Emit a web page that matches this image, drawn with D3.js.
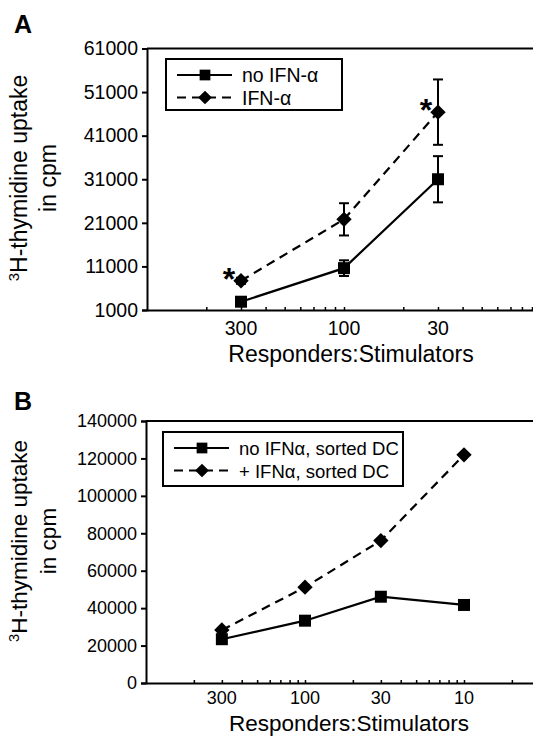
<!DOCTYPE html>
<html>
<head>
<meta charset="utf-8">
<script src="https://cdn.jsdelivr.net/npm/d3@7"></script>
<style>
  body { margin: 0; background: #fff; }
  svg { font-family: "Liberation Sans", Arial, sans-serif; }
</style>
</head>
<body>
<div id="chart"></div>
<script>
// ---- data, panel A ----
var ratiosA = [0.003, 0.01, 0.03];           // stimulator/responder fraction
var ratioLabelsA = ["300", "100", "30"];
var noIfnA = [2900, 10600, 31000];
var noIfnErrA = [600, 1800, 5300];
var ifnA = [7700, 21800, 46400];
var ifnErrA = [700, 3700, 7500];
var yTicksA = [1000, 11000, 21000, 31000, 41000, 51000, 61000];
var starsA = [0, 2];                          // indices with significance

// ---- data, panel B ----
var ratiosB = [0.003, 0.01, 0.03, 0.1];
var ratioLabelsB = ["300", "100", "30", "10"];
var noIfnB = [23400, 33300, 46100, 41700];
var ifnB = [28300, 51200, 76100, 121900];
var yTicksB = [0, 20000, 40000, 60000, 80000, 100000, 120000, 140000];

var W = 533, H = 738;

// square diamond (rotated square), size = area
var diamond = {
    draw: function(context, size) {
        var r = Math.sqrt(size / 2);
        context.moveTo(0, -r);
        context.lineTo(r, 0);
        context.lineTo(0, r);
        context.lineTo(-r, 0);
        context.closePath();
    }
};

var svg = d3.select("#chart").append("svg")
    .attr("width", W)
    .attr("height", H);

function drawPanel(cfg) {
    var g = svg.append("g");

    var x = d3.scaleLog().domain(cfg.xDomain).range(cfg.xRange);
    var y = d3.scaleLinear().domain(cfg.yDomain).range(cfg.yRange);

    // frame (top + right edge, right side runs off the page)
    g.append("path")
        .attr("d", "M" + cfg.xRange[0] + "," + cfg.yRange[1] + "H" + cfg.xRange[1] + "V" + cfg.yRange[0])
        .attr("fill", "none")
        .attr("stroke", "#000")
        .attr("stroke-width", 2);

    // y axis
    var yAxis = d3.axisLeft(y)
        .tickValues(cfg.yTicks)
        .tickSize(5)
        .tickPadding(4)
        .tickFormat(d3.format("d"));
    var ya = g.append("g")
        .attr("transform", "translate(" + cfg.xRange[0] + ",0)")
        .call(yAxis);
    ya.select(".domain").attr("stroke-width", 2);
    ya.selectAll(".tick line").attr("stroke-width", 2);
    ya.selectAll(".tick text")
        .attr("font-size", cfg.tickFont)
        .attr("font-family", "Liberation Sans, Arial, sans-serif")
        .attr("fill", "#000");

    // x axis: inward minor log ticks, labels at the data ratios
    var minor = x.ticks().filter(function(d) { return d > cfg.xDomain[0] * 1.01; });
    var xAxis = d3.axisBottom(x)
        .tickValues(minor)
        .tickSizeInner(-3)
        .tickSizeOuter(0)
        .tickFormat("");
    var xa = g.append("g")
        .attr("transform", "translate(0," + cfg.yRange[0] + ")")
        .call(xAxis);
    xa.select(".domain").attr("stroke-width", 2.2);
    xa.selectAll(".tick line").attr("stroke-width", 1.5);

    g.selectAll(".xlab")
        .data(cfg.ratios)
        .enter().append("text")
        .attr("class", "xlab")
        .attr("x", function(d) { return x(d); })
        .attr("y", cfg.xLabelY)
        .attr("text-anchor", "middle")
        .attr("font-size", cfg.tickFont)
        .text(function(d, i) { return cfg.ratioLabels[i]; });

    // axis titles
    g.append("text")
        .attr("x", cfg.xTitleX)
        .attr("y", cfg.xTitleY)
        .attr("text-anchor", "middle")
        .attr("font-size", cfg.titleFont)
        .text("Responders:Stimulators");

    var yt = g.append("text")
        .attr("transform", "translate(" + cfg.yTitleX + "," + cfg.yTitleY + ") rotate(-90)")
        .attr("text-anchor", "middle")
        .attr("font-size", cfg.titleFont);
    var l1 = yt.append("tspan").attr("x", 0).attr("y", 0);
    l1.append("tspan").attr("font-size", cfg.titleFont * 0.65).attr("dy", -8).text("3");
    l1.append("tspan").attr("dy", 8).text("H-thymidine uptake");
    yt.append("tspan").attr("x", 0).attr("y", 29).text("in cpm");

    // panel letter
    g.append("text")
        .attr("x", 14)
        .attr("y", cfg.letterY)
        .attr("font-size", 25)
        .attr("font-weight", "bold")
        .text(cfg.letter);

    var series = cfg.series;

    var line = d3.line()
        .x(function(d) { return x(d.r); })
        .y(function(d) { return y(d.v); });

    series.forEach(function(s) {
        var pts = cfg.ratios.map(function(r, i) { return { r: r, v: s.values[i], e: s.err ? s.err[i] : 0 }; });

        g.append("path")
            .datum(pts)
            .attr("d", line)
            .attr("fill", "none")
            .attr("stroke", "#000")
            .attr("stroke-width", 2.2)
            .attr("stroke-dasharray", s.dash);

        if (s.err) {
            var eb = g.selectAll(null)
                .data(pts)
                .enter().append("g");
            eb.append("line")
                .attr("x1", function(d) { return x(d.r); })
                .attr("x2", function(d) { return x(d.r); })
                .attr("y1", function(d) { return y(d.v - d.e); })
                .attr("y2", function(d) { return y(d.v + d.e); })
                .attr("stroke", "#000").attr("stroke-width", 2);
            [-1, 1].forEach(function(sign) {
                eb.append("line")
                    .attr("x1", function(d) { return x(d.r) - 5; })
                    .attr("x2", function(d) { return x(d.r) + 5; })
                    .attr("y1", function(d) { return y(d.v + sign * d.e); })
                    .attr("y2", function(d) { return y(d.v + sign * d.e); })
                    .attr("stroke", "#000").attr("stroke-width", 2);
            });
        }

        g.selectAll(null)
            .data(pts)
            .enter().append("path")
            .attr("transform", function(d) { return "translate(" + x(d.r) + "," + y(d.v) + ")"; })
            .attr("d", d3.symbol().type(s.symbol).size(s.size))
            .attr("fill", "#000");
    });

    // significance stars
    if (cfg.stars) {
        g.selectAll(".star")
            .data(cfg.stars)
            .enter().append("text")
            .attr("class", "star")
            .attr("x", function(i) { return x(cfg.ratios[i]) - 12; })
            .attr("y", function(i) { return y(series[1].values[i]) + 9; })
            .attr("text-anchor", "middle")
            .attr("font-size", 32)
            .attr("font-weight", "bold")
            .text("*");
    }

    // legend
    var lg = cfg.legend;
    g.append("rect")
        .attr("x", lg.x).attr("y", lg.y)
        .attr("width", lg.w).attr("height", lg.h)
        .attr("fill", "#fff")
        .attr("stroke", "#000")
        .attr("stroke-width", 2);
    series.forEach(function(s, i) {
        var ry = lg.y + 16 + i * 22.5;
        g.append("line")
            .attr("x1", lg.x + 11).attr("x2", lg.x + 66)
            .attr("y1", ry).attr("y2", ry)
            .attr("stroke", "#000").attr("stroke-width", 2.2)
            .attr("stroke-dasharray", s.dash);
        g.append("path")
            .attr("transform", "translate(" + (lg.x + 39) + "," + ry + ")")
            .attr("d", d3.symbol().type(s.symbol).size(s.size * 0.8))
            .attr("fill", "#000");
        g.append("text")
            .attr("x", lg.x + 76)
            .attr("y", ry + 7)
            .attr("font-size", lg.font)
            .text(s.name);
    });
}

drawPanel({
    letter: "A", letterY: 33,
    xDomain: [0.001, 0.1], xRange: [147, 541],
    yDomain: [1000, 61000], yRange: [310, 48.5],
    yTicks: yTicksA,
    ratios: ratiosA, ratioLabels: ratioLabelsA,
    tickFont: 19.5, titleFont: 23,
    xLabelY: 335, xTitleX: 351, xTitleY: 362,
    yTitleX: 27, yTitleY: 178,
    stars: starsA,
    series: [
        { name: "no IFN-α", values: noIfnA, err: noIfnErrA, dash: null, symbol: d3.symbolSquare, size: 144 },
        { name: "IFN-α", values: ifnA, err: ifnErrA, dash: "9,6", symbol: diamond, size: 118 }
    ],
    legend: { x: 166, y: 59, w: 176, h: 51, font: 19.5 }
});

drawPanel({
    letter: "B", letterY: 410,
    xDomain: [0.001, 1], xRange: [146, 623],
    yDomain: [0, 140000], yRange: [683, 421],
    yTicks: yTicksB,
    ratios: ratiosB, ratioLabels: ratioLabelsB,
    tickFont: 18, titleFont: 22.5,
    xLabelY: 704, xTitleX: 349, xTitleY: 731,
    yTitleX: 27, yTitleY: 541,
    stars: null,
    series: [
        { name: "no IFNα, sorted DC", values: noIfnB, err: null, dash: null, symbol: d3.symbolSquare, size: 144 },
        { name: "+ IFNα, sorted DC", values: ifnB, err: null, dash: "9,6", symbol: diamond, size: 118 }
    ],
    legend: { x: 163, y: 432, w: 240, h: 54, font: 18.5 }
});
</script>
</body>
</html>
